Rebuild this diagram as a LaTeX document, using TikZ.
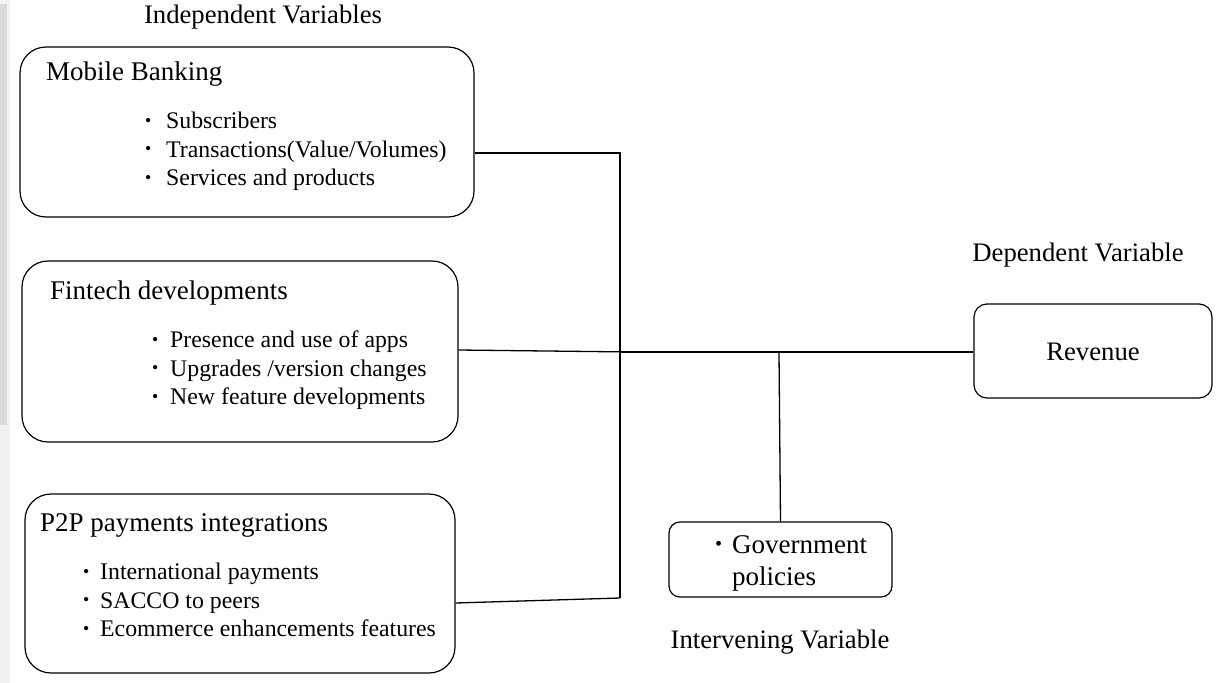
\documentclass[tikz,border=0pt]{standalone}
\usepackage{fontspec}
\setmainfont{Liberation Serif}
\usetikzlibrary{positioning,calc}
\definecolor{scrolltrack}{HTML}{F1F1F1}
\definecolor{scrollthumb}{HTML}{DADADA}
\newcommand{\bul}[1][21pt]{\llap{\makebox[#1][l]{\raisebox{0.1em}{\scalebox{0.75}{\textbullet}}}}}
\tikzset{
  varbox/.style={draw=black,line width=1.2pt,rounded corners=26pt,inner sep=0pt},
  smallbox/.style={draw=black,line width=1.2pt,rounded corners=13pt,inner sep=0pt},
  title/.style={font=\fontsize{27}{32}\selectfont,inner sep=0pt,anchor=base west},
  items/.style={font=\fontsize{23.8}{28.5}\selectfont,align=left,inner sep=0pt,anchor=base west},
  caption/.style={font=\fontsize{26.7}{32}\selectfont,inner sep=0pt,anchor=base},
  link/.style={draw=black,line width=1.3pt}
}

\begin{document}
\begin{tikzpicture}[x=1pt,y=-1pt]
  \useasboundingbox (0,0) rectangle (1227,683);
  \fill[scrolltrack] (0,0) rectangle (10,683);
  \fill[scrollthumb] (0,4) rectangle (7,425);

  \node[caption] (indep) at (263,23) {Independent Variables};
  \node[caption] (dep) at (1078,261) {Dependent Variable};
  \node[caption] (interv) at (780,648) {Intervening Variable};

  \node[varbox,minimum width=454pt,minimum height=170pt] (mb) at (247,132) {};
  \node[title] (mbtitle) at (46,80) {Mobile Banking};
  \node[items] (mbitems) at (166,185.5) {\bul Subscribers\\\bul Transactions(Value/Volumes)\\\bul Services and products};

  \node[varbox,minimum width=436pt,minimum height=181pt] (fd) at (240,351.5) {};
  \node[title] (fdtitle) at (50,299) {Fintech developments};
  \node[items] (fditems) at (170,404.5) {\bul[18pt]Presence and use of apps\\\bul[18pt]Upgrades /version changes\\\bul[18pt]New feature developments};

  \node[varbox,minimum width=430pt,minimum height=179pt] (p2p) at (240,583.5) {};
  \node[title] (p2ptitle) at (40,531) {P2P payments integrations};
  \node[items] (p2pitems) at (100,636.5) {\bul[17pt]International payments\\\bul[17pt]SACCO to peers\\\bul[17pt]Ecommerce enhancements features};

  \node[smallbox,minimum width=238pt,minimum height=94pt] (rev) at (1093,351) {};
  \node[caption] (revtext) at (1093,360) {Revenue};

  \node[smallbox,rounded corners=11pt,minimum width=223pt,minimum height=75pt] (gov) at (780.5,559.5) {};
  \node[title,align=left] (govtext) at (732,585) {\bul[17pt]Government\\policies};

  \coordinate (jtop) at (620,153);
  \coordinate (jmid) at (620,352);
  \coordinate (jbot) at (620,598);
  \coordinate (jgov) at (779,352);

  \draw[link] (mb.east |- jtop) -- (jtop) -- (jbot);
  \draw[link] ([yshift=1.5pt]fd.east) -- ([xshift=14pt]jmid);
  \draw[link] (jmid) -- (rev.west |- jmid);
  \draw[link] ([yshift=-19.5pt]p2p.east) -- (jbot);
  \draw[link] (jgov) -- (gov.north);
\end{tikzpicture}
\end{document}
